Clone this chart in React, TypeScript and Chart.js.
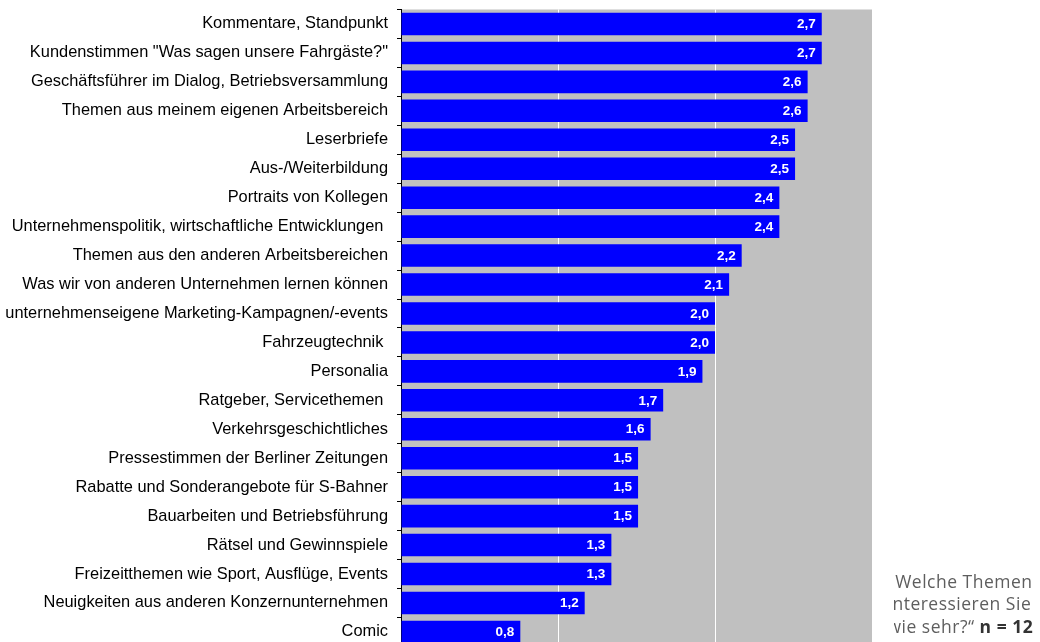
import React, { useEffect, useRef } from "react";
import { Chart, registerables } from "chart.js";

Chart.register(...registerables);

const categories: string[] = [
  "Kommentare, Standpunkt",
  "Kundenstimmen \"Was sagen unsere Fahrgäste?\"",
  "Geschäftsführer im Dialog, Betriebsversammlung",
  "Themen aus meinem eigenen Arbeitsbereich",
  "Leserbriefe",
  "Aus-/Weiterbildung",
  "Portraits von Kollegen",
  "Unternehmenspolitik, wirtschaftliche Entwicklungen ",
  "Themen aus den anderen Arbeitsbereichen",
  "Was wir von anderen Unternehmen lernen können",
  "unternehmenseigene Marketing-Kampagnen/-events",
  "Fahrzeugtechnik ",
  "Personalia",
  "Ratgeber, Servicethemen ",
  "Verkehrsgeschichtliches",
  "Pressestimmen der Berliner Zeitungen",
  "Rabatte und Sonderangebote für S-Bahner",
  "Bauarbeiten und Betriebsführung",
  "Rätsel und Gewinnspiele",
  "Freizeitthemen wie Sport, Ausflüge, Events",
  "Neuigkeiten aus anderen Konzernunternehmen",
  "Comic",
];

const values: number[] = [
  2.68, 2.68, 2.59, 2.59, 2.51, 2.51, 2.41, 2.41, 2.17, 2.09, 2.0, 2.0, 1.92,
  1.67, 1.59, 1.51, 1.51, 1.51, 1.34, 1.34, 1.17, 0.76,
];

const axisMin = 0;
const axisMax = 3;
const axisStep = 1;

const noteLines: string[] = ["„Welche Themen", "interessieren Sie", "wie sehr?“ "];
const noteN = "n = 12";

const fmt = (v: number) => v.toFixed(1).replace(".", ",");

const bgPlugin = {
  id: "plotBg",
  beforeDraw(chart: any) {
    const { ctx, chartArea } = chart;
    ctx.save();
    ctx.fillStyle = "#C0C0C0";
    ctx.fillRect(
      chartArea.left,
      chartArea.top,
      chartArea.right - chartArea.left,
      chartArea.bottom - chartArea.top
    );
    ctx.restore();
  },
};

const labelPlugin = {
  id: "barLabels",
  afterDatasetsDraw(chart: any) {
    const { ctx } = chart;
    const meta = chart.getDatasetMeta(0);
    ctx.save();
    ctx.fillStyle = "#FFFFFF";
    ctx.font = "bold 13.5px 'Liberation Sans', Arial, sans-serif";
    ctx.textAlign = "right";
    ctx.textBaseline = "middle";
    meta.data.forEach((bar: any, i: number) => {
      ctx.fillText(fmt(values[i]), bar.x - 6, bar.y + 0.5);
    });
    ctx.restore();
  },
};

export default function App() {
  const ref = useRef<HTMLCanvasElement | null>(null);

  useEffect(() => {
    if (!ref.current) return;
    const chart = new Chart(ref.current, {
      type: "bar",
      data: {
        labels: categories,
        datasets: [
          {
            data: values,
            backgroundColor: "#0000FF",
            borderWidth: 0,
            categoryPercentage: 1,
            barPercentage: 0.78,
          },
        ],
      },
      options: {
        indexAxis: "y",
        animation: false,
        responsive: false,
        events: [],
        layout: { padding: { left: 0, top: 9.5, right: 168, bottom: 13.6 } },
        plugins: {
          legend: { display: false },
          tooltip: { enabled: false },
          title: { display: false },
        },
        scales: {
          x: {
            type: "linear",
            position: "bottom",
            min: axisMin,
            max: axisMax,
            ticks: { stepSize: axisStep, display: false },
            grid: { color: "#FFFFFF", lineWidth: 1, drawTicks: false },
            border: { display: false },
            afterFit(scale: any) {
              scale.height = 0;
              scale.paddingLeft = 0;
              scale.paddingRight = 0;
            },
          },
          y: {
            type: "category",
            position: "left",
            offset: true,
            ticks: {
              color: "#000000",
              padding: 9,
              autoSkip: false,
              font: { family: "'Liberation Sans', Arial, sans-serif", size: 16.4 },
            },
            grid: {
              offset: true,
              drawOnChartArea: false,
              drawTicks: true,
              tickLength: 4,
              color: "#000000",
            },
            border: { display: true, color: "#000000", width: 1 },
            afterFit(scale: any) {
              scale.width = 401;
              scale.paddingTop = 0;
              scale.paddingBottom = 0;
            },
          },
        },
      },
      plugins: [bgPlugin, labelPlugin],
    });
    return () => chart.destroy();
  }, []);

  return (
    <div
      style={{
        position: "fixed",
        left: 0,
        top: 0,
        width: 1040,
        height: 642,
        overflow: "hidden",
        background: "#FFFFFF",
      }}
    >
      <canvas ref={ref} width={1040} height={660} style={{ display: "block" }} />
      <div
        style={{
          position: "absolute",
          left: 893.5,
          top: 570,
          width: 147,
          overflow: "hidden",
        }}
      >
        <div
          style={{
            marginLeft: -6,
            fontFamily: "'Open Sans', 'Noto Sans', sans-serif",
            fontSize: 17.5,
            letterSpacing: "0.5px",
            lineHeight: "22.3px",
            color: "#5E5E5E",
            whiteSpace: "pre",
          }}
        >
          <div>{noteLines[0]}</div>
          <div>{noteLines[1]}</div>
          <div>
            {noteLines[2]}
            <b style={{ color: "#333333" }}>{noteN}</b>
          </div>
        </div>
      </div>
    </div>
  );
}
